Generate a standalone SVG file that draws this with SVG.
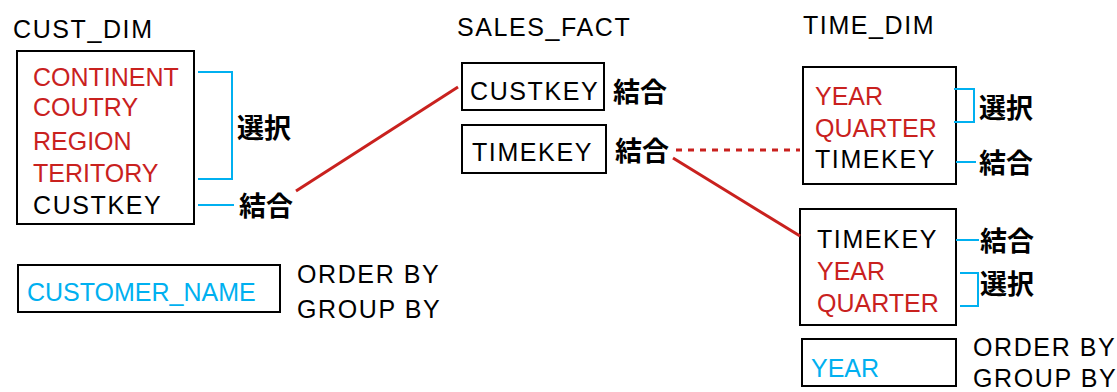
<svg xmlns="http://www.w3.org/2000/svg" width="1117" height="392" viewBox="0 0 1117 392">
<style>
.box{fill:#fff;stroke:#000;stroke-width:2}
.t{font-family:"Liberation Sans",Arial,sans-serif;font-size:25px}
.k{fill:#000;letter-spacing:1.6px}
.r{fill:#c9211e}
.b{fill:#00b0f0}
.j{font-family:"Noto Sans CJK JP",sans-serif;font-size:27px;font-weight:bold;fill:#000}
.bl{fill:none;stroke:#00b0f0;stroke-width:2}
.rl{fill:none;stroke:#c9211e;stroke-width:3}
</style>
<rect width="1117" height="392" fill="#fff"/>
<g id="cust_dim">
<text class="t k" x="13" y="38">CUST_DIM</text>
<rect class="box" x="17" y="51" width="177" height="173"/>
<text class="t r" x="33" y="86">CONTINENT</text>
<text class="t r" x="33" y="116">COUTRY</text>
<text class="t r" x="33" y="150">REGION</text>
<text class="t r" x="33" y="182">TERITORY</text>
<text class="t k" x="33" y="214">CUSTKEY</text>
<path class="bl" d="M198 72H232V179H198"/>
<text class="j" x="237" y="138">選択</text>
<path class="bl" d="M198 205H234"/>
<text class="j" x="239" y="216">結合</text>
</g>
<g id="customer_name">
<rect class="box" x="18" y="265" width="262" height="47"/>
<text class="t b" x="27" y="301">CUSTOMER_NAME</text>
<text class="t k" x="297" y="283">ORDER BY</text>
<text class="t k" x="297" y="318">GROUP BY</text>
</g>
<g id="sales_fact">
<text class="t k" x="457" y="36">SALES_FACT</text>
<rect class="box" x="462" y="63" width="142" height="47"/>
<text class="t k" x="470" y="100">CUSTKEY</text>
<text class="j" x="613" y="102">結合</text>
<rect class="box" x="462" y="125" width="144" height="48"/>
<text class="t k" x="472" y="161">TIMEKEY</text>
<text class="j" x="615" y="161">結合</text>
</g>
<g id="time_dim">
<text class="t k" x="803" y="34">TIME_DIM</text>
<rect class="box" x="803" y="67" width="153" height="117"/>
<text class="t r" x="815" y="105">YEAR</text>
<text class="t r" x="815" y="137">QUARTER</text>
<text class="t k" x="815" y="168">TIMEKEY</text>
<path class="bl" d="M954 89H974V122H954"/>
<text class="j" x="979" y="118">選択</text>
<path class="bl" d="M956 162H976"/>
<text class="j" x="979" y="173">結合</text>
</g>
<g id="time_dim2">
<rect class="box" x="800" y="209" width="156" height="116"/>
<text class="t k" x="817" y="248">TIMEKEY</text>
<text class="t r" x="817" y="280">YEAR</text>
<text class="t r" x="817" y="312">QUARTER</text>
<path class="bl" d="M956 240H979"/>
<text class="j" x="980" y="251">結合</text>
<path class="bl" d="M960 273H978V306H960"/>
<text class="j" x="980" y="294">選択</text>
</g>
<g id="year">
<rect class="box" x="802" y="339" width="154" height="47"/>
<text class="t b" x="811" y="377">YEAR</text>
<text class="t k" x="973" y="356">ORDER BY</text>
<text class="t k" x="973" y="387">GROUP BY</text>
</g>
<g id="connectors">
<path class="rl" d="M296 191L458 87"/>
<path class="rl" d="M676 150H800" stroke-dasharray="6 6"/>
<path class="rl" d="M673 158L800 236"/>
</g>
</svg>
